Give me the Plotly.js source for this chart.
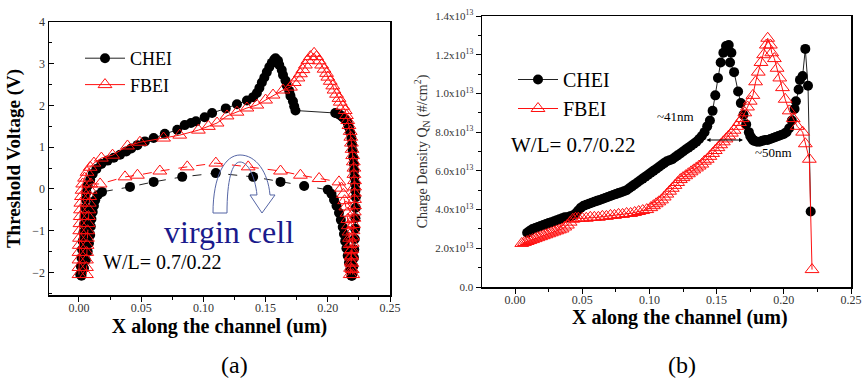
<!DOCTYPE html>
<html>
<head>
<meta charset="utf-8">
<script src="https://cdn.plot.ly/plotly-3.0.1.min.js"></script>
<style>html,body{margin:0;padding:0;background:#fff;}#chart{width:862px;height:381px;}</style>
</head>
<body>
<div id="chart"></div>
<script>
// ---------- Panel (a): threshold voltage along the channel ----------
const aCheiProgX = [0.001,0.0015,0.002,0.0025,0.003,0.0035,0.004,0.0045,0.005,0.0055,0.006,0.007,0.009,0.011,0.014,0.018,0.023,0.028,0.033,0.038,0.042,0.047,0.053,0.060,0.069,0.079,0.085,0.090,0.094,0.101,0.107,0.118,0.127,0.135,0.140,0.143,0.145,0.147,0.149,0.151,0.153,0.155,0.157,0.158,0.160,0.161,0.163,0.164,0.166,0.167,0.169,0.170,0.172,0.173,0.174,0.206,0.208,0.210,0.212,0.214,0.216,0.217,0.218,0.219,0.2195,0.220,0.2205,0.221,0.2212,0.2215,0.222,0.2222,0.2225,0.2225,0.2222,0.222,0.2217,0.2213,0.221,0.2205,0.22,0.2195];
const aCheiProgY = [-2.05,-1.85,-1.65,-1.45,-1.25,-1.05,-0.85,-0.65,-0.45,-0.25,-0.08,0.08,0.22,0.36,0.48,0.60,0.68,0.75,0.82,0.90,0.97,1.05,1.14,1.22,1.32,1.42,1.53,1.58,1.62,1.72,1.82,1.93,2.03,2.12,2.20,2.30,2.42,2.55,2.67,2.80,2.92,3.02,3.10,3.13,3.07,2.97,2.85,2.73,2.60,2.48,2.35,2.23,2.10,1.98,1.88,1.82,1.80,1.77,1.72,1.66,1.58,1.48,1.36,1.22,1.07,0.92,0.76,0.60,0.44,0.28,0.12,-0.04,-0.20,-0.45,-0.70,-0.95,-1.2,-1.45,-1.65,-1.85,-2.0,-2.08];
const aCheiVirgX = [0.002,0.004,0.0055,0.007,0.008,0.009,0.0095,0.010,0.011,0.012,0.013,0.015,0.0185,0.041,0.060,0.083,0.110,0.140,0.162,0.181,0.200,0.203,0.205,0.207,0.209,0.2105,0.212,0.213,0.214,0.215,0.216,0.217,0.218,0.219];
const aCheiVirgY = [-2.08,-1.90,-1.70,-1.50,-1.30,-1.10,-0.90,-0.72,-0.55,-0.40,-0.27,-0.15,-0.07,0.05,0.17,0.29,0.38,0.29,0.17,0.07,-0.02,-0.12,-0.26,-0.40,-0.57,-0.74,-0.91,-1.08,-1.25,-1.42,-1.60,-1.77,-1.93,-2.08];
const aFbeiProgX = [0.000,0.000,0.000,0.000,0.0002,0.0004,0.0006,0.0008,0.001,0.0012,0.0015,0.002,0.0025,0.003,0.0045,0.0065,0.009,0.012,0.018,0.027,0.039,0.049,0.068,0.081,0.096,0.104,0.111,0.119,0.127,0.135,0.143,0.150,0.156,0.164,0.170,0.173,0.176,0.178,0.180,0.182,0.184,0.186,0.189,0.191,0.193,0.195,0.197,0.199,0.200,0.202,0.204,0.205,0.207,0.209,0.210,0.212,0.214,0.215,0.216,0.217,0.218,0.2185,0.219,0.2195,0.220,0.2205,0.221,0.221,0.2215,0.2215,0.2215,0.2215,0.2215,0.2213,0.221,0.2207,0.2203,0.220,0.2197,0.2193,0.219,0.2187,0.2183,0.218];
const aFbeiProgY = [-2.05,-1.88,-1.70,-1.52,-1.35,-1.18,-1.00,-0.83,-0.66,-0.50,-0.34,-0.18,-0.03,0.12,0.26,0.40,0.52,0.62,0.74,0.81,1.03,1.12,1.22,1.29,1.41,1.50,1.58,1.75,1.84,1.94,2.01,2.13,2.25,2.37,2.44,2.55,2.66,2.76,2.86,2.97,3.08,3.17,3.25,3.17,3.07,2.97,2.87,2.77,2.68,2.58,2.47,2.37,2.27,2.17,2.08,1.98,1.88,1.76,1.64,1.52,1.38,1.24,1.10,0.95,0.80,0.65,0.50,0.35,0.20,0.05,-0.10,-0.25,-0.40,-0.55,-0.70,-0.85,-1.00,-1.15,-1.30,-1.45,-1.60,-1.75,-1.90,-2.05];
const aFbeiVirgX = [0.006,0.006,0.006,0.0062,0.0065,0.0068,0.007,0.0073,0.0076,0.008,0.0083,0.0086,0.009,0.0095,0.017,0.037,0.047,0.065,0.087,0.110,0.136,0.162,0.178,0.193,0.209,0.211,0.2125,0.2135,0.2145,0.2155,0.216,0.2165,0.217,0.2175,0.218,0.2185,0.219,0.2193,0.2196,0.220];
const aFbeiVirgY = [-2.05,-1.88,-1.70,-1.52,-1.35,-1.18,-1.00,-0.83,-0.66,-0.50,-0.34,-0.18,-0.03,0.12,0.12,0.29,0.33,0.43,0.53,0.62,0.53,0.43,0.33,0.25,0.17,0.02,-0.13,-0.28,-0.43,-0.58,-0.73,-0.88,-1.03,-1.18,-1.33,-1.48,-1.63,-1.78,-1.93,-2.05];

// ---------- Panel (b): charge density (units of 1e13 #/cm^2) ----------
const bCheiX = [0.009,0.011,0.013,0.015,0.017,0.019,0.021,0.023,0.025,0.027,0.029,0.031,0.033,0.035,0.037,0.039,0.041,0.043,0.045,0.047,0.049,0.051,0.053,0.055,0.057,0.059,0.061,0.063,0.065,0.067,0.069,0.071,0.073,0.075,0.077,0.079,0.081,0.083,0.085,0.087,0.089,0.091,0.093,0.095,0.097,0.099,0.101,0.103,0.105,0.107,0.109,0.111,0.113,0.115,0.117,0.119,0.121,0.123,0.125,0.127,0.129,0.131,0.133,0.135,0.137,0.139,0.141,0.143,0.145,0.147,0.149,0.151,0.153,0.155,0.157,0.159,0.161,0.160,0.163,0.166,0.168,0.170,0.172,0.174,0.175,0.176,0.177,0.178,0.180,0.182,0.184,0.186,0.188,0.190,0.192,0.194,0.196,0.198,0.200,0.202,0.204,0.206,0.208,0.209,0.211,0.212,0.214,0.216,0.218,0.220];
const bCheiY = [0.28,0.29,0.30,0.305,0.31,0.315,0.32,0.325,0.33,0.335,0.34,0.345,0.35,0.355,0.36,0.36,0.365,0.37,0.38,0.395,0.41,0.42,0.425,0.43,0.435,0.44,0.445,0.45,0.455,0.46,0.465,0.47,0.475,0.48,0.485,0.49,0.495,0.50,0.51,0.52,0.53,0.54,0.55,0.56,0.57,0.58,0.59,0.60,0.61,0.62,0.63,0.64,0.65,0.655,0.66,0.67,0.68,0.69,0.70,0.71,0.72,0.73,0.74,0.75,0.765,0.78,0.80,0.83,0.86,0.91,0.99,1.08,1.16,1.21,1.245,1.25,1.21,1.16,1.11,1.01,0.95,0.89,0.84,0.80,0.78,0.77,0.76,0.755,0.75,0.75,0.755,0.76,0.76,0.765,0.77,0.775,0.78,0.785,0.79,0.80,0.82,0.86,0.92,0.96,1.02,1.07,1.09,1.23,1.04,0.39];
const bFbeiX = [0.005,0.007,0.009,0.011,0.013,0.015,0.017,0.019,0.021,0.023,0.025,0.027,0.029,0.031,0.033,0.035,0.037,0.039,0.041,0.043,0.045,0.047,0.050,0.053,0.056,0.059,0.062,0.065,0.068,0.071,0.074,0.077,0.080,0.083,0.086,0.089,0.092,0.095,0.098,0.101,0.103,0.105,0.107,0.109,0.111,0.113,0.115,0.117,0.119,0.121,0.123,0.125,0.127,0.129,0.131,0.133,0.135,0.137,0.139,0.141,0.143,0.145,0.147,0.149,0.151,0.153,0.155,0.157,0.159,0.161,0.163,0.165,0.167,0.169,0.171,0.173,0.175,0.177,0.179,0.181,0.183,0.185,0.187,0.188,0.190,0.191,0.193,0.195,0.197,0.199,0.201,0.204,0.207,0.210,0.214,0.216,0.219,0.221];
const bFbeiY = [0.225,0.23,0.235,0.24,0.245,0.25,0.255,0.26,0.265,0.27,0.275,0.28,0.285,0.29,0.295,0.30,0.31,0.32,0.335,0.35,0.355,0.355,0.355,0.355,0.36,0.36,0.36,0.365,0.365,0.37,0.37,0.375,0.375,0.38,0.38,0.385,0.39,0.395,0.40,0.41,0.42,0.43,0.44,0.45,0.465,0.48,0.495,0.51,0.525,0.54,0.555,0.565,0.575,0.585,0.595,0.605,0.615,0.625,0.635,0.65,0.66,0.675,0.69,0.705,0.72,0.735,0.75,0.765,0.78,0.795,0.81,0.83,0.85,0.87,0.90,0.93,0.96,0.99,1.06,1.11,1.16,1.20,1.25,1.285,1.25,1.21,1.18,1.13,1.08,1.03,0.97,0.91,0.87,0.83,0.80,0.74,0.66,0.09];

const bYTickVals = [0,0.2,0.4,0.6,0.8,1.0,1.2,1.4];
const bYTickText = ['0.0','2.0x10<sup>13</sup>','4.0x10<sup>13</sup>','6.0x10<sup>13</sup>','8.0x10<sup>13</sup>','1.0x10<sup>13</sup>','1.2x10<sup>13</sup>','1.4x10<sup>13</sup>'];

const SERIF = 'Liberation Serif';
const RED = '#ff1010';
const W = 862, H = 381;
const PX = v => v / W;
const PY = v => 1 - v / H;

const cheiMarker = {symbol:'circle', size:10, color:'#000'};
const fbeiMarker = {symbol:'triangle-up-open', size:12, color:RED, line:{width:1, color:RED}};

const traces = [
  {x:aCheiProgX, y:aCheiProgY, xaxis:'x', yaxis:'y', name:'CHEI', mode:'lines+markers', line:{color:'#222', width:1}, marker:cheiMarker, legend:'legend', legendgroup:'a1'},
  {x:aCheiVirgX, y:aCheiVirgY, xaxis:'x', yaxis:'y', name:'CHEI virgin', mode:'lines+markers', line:{color:'#222', width:1, dash:'dash'}, marker:cheiMarker, showlegend:false},
  {x:aFbeiProgX, y:aFbeiProgY, xaxis:'x', yaxis:'y', name:'FBEI', mode:'lines+markers', line:{color:RED, width:1}, marker:fbeiMarker, legend:'legend', legendgroup:'a2'},
  {x:aFbeiVirgX, y:aFbeiVirgY, xaxis:'x', yaxis:'y', name:'FBEI virgin', mode:'lines+markers', line:{color:RED, width:1, dash:'dash'}, marker:fbeiMarker, showlegend:false},
  {x:bCheiX, y:bCheiY, xaxis:'x2', yaxis:'y2', name:'CHEI', mode:'lines+markers', line:{color:'#222', width:1}, marker:cheiMarker, legend:'legend2', legendgroup:'b1'},
  {x:bFbeiX, y:bFbeiY, xaxis:'x2', yaxis:'y2', name:'FBEI', mode:'lines+markers', line:{color:RED, width:1}, marker:fbeiMarker, legend:'legend2', legendgroup:'b2'}
];

const tickFont = {family:SERIF, size:12, color:'#333'};
const axisBase = {showline:true, linecolor:'#000', linewidth:1.5, mirror:true, showgrid:false, zeroline:false, automargin:false, tickcolor:'#000', tickwidth:1, tickfont:tickFont};

function P(x, y){ return PX(x).toFixed(5) + ',' + PY(y).toFixed(5); }
const arrowPath = 'M' + P(213,213) + ' C' + P(213,176) + ' ' + P(225,155) + ' ' + P(240,155) +
  ' C' + P(256,155) + ' ' + P(268,172) + ' ' + P(270,195) + ' L' + P(275,195) + ' L' + P(262,213) +
  ' L' + P(250,195) + ' L' + P(257,195) + ' C' + P(255,176) + ' ' + P(248,162) + ' ' + P(240,162) +
  ' C' + P(232,162) + ' ' + P(227,180) + ' ' + P(227,213) + ' Z';

function note(x, y, text, size, color){
  return {xref:'paper', yref:'paper', x:PX(x), y:PY(y), xanchor:'center', yanchor:'middle', text:text, showarrow:false, font:{family:SERIF, size:size, color:color || '#000'}};
}

const layout = {
  width:W, height:H, margin:{l:0, r:0, t:0, b:0}, paper_bgcolor:'#fff', plot_bgcolor:'#fff',
  font:{family:SERIF, color:'#000'},
  xaxis:Object.assign({}, axisBase, {domain:[PX(49), PX(390)], anchor:'y', range:[-0.0241, 0.25], tick0:0, dtick:0.05, tickformat:'.2f', ticks:'outside', ticklen:5, ticklabelstandoff:-4, minor:{ticks:'outside', ticklen:3, tick0:0, dtick:0.025, tickcolor:'#000'}, title:{text:'<b>X along the channel (um)</b>', font:{family:SERIF, size:20, color:'#000'}, standoff:2}}),
  yaxis:Object.assign({}, axisBase, {domain:[PY(295), PY(22)], anchor:'x', range:[-2.54, 4], tick0:0, dtick:1, ticks:'inside', ticklen:5, minor:{ticks:'inside', ticklen:3, tick0:0, dtick:0.5, tickcolor:'#000'}, title:{text:'<b>Threshold Voltage (V)</b>', font:{family:SERIF, size:19, color:'#000'}, standoff:6}}),
  xaxis2:Object.assign({}, axisBase, {domain:[PX(482), PX(851)], anchor:'y2', range:[-0.0246, 0.25], tick0:0, dtick:0.05, tickformat:'.2f', ticks:'outside', ticklen:5, ticklabelstandoff:-4, minor:{ticks:'outside', ticklen:3, tick0:0, dtick:0.025, tickcolor:'#000'}}),
  yaxis2:Object.assign({}, axisBase, {domain:[PY(287), PY(16)], anchor:'x2', range:[0, 1.4], tickvals:bYTickVals, ticktext:bYTickText, ticks:'outside', ticklen:5, minor:{ticks:'outside', ticklen:3, tick0:0, dtick:0.1, tickcolor:'#000'}, tickfont:{family:SERIF, size:11, color:'#333'}, title:{text:'Charge Density Q<sub>N</sub> (#/cm<sup>2</sup>)', font:{family:SERIF, size:14, color:'#333'}, standoff:4}}),
  legend:{x:PX(80), y:PY(40), xanchor:'left', yanchor:'top', bgcolor:'rgba(0,0,0,0)', borderwidth:0, font:{family:SERIF, size:18, color:'#000'}, traceorder:'grouped', tracegroupgap:0, itemsizing:'trace', itemwidth:40},
  legend2:{x:PX(513), y:PY(60), xanchor:'left', yanchor:'top', bgcolor:'rgba(0,0,0,0)', borderwidth:0, font:{family:SERIF, size:20, color:'#000'}, traceorder:'grouped', tracegroupgap:0, itemsizing:'trace', itemwidth:40},
  shapes:[
    {type:'path', xref:'paper', yref:'paper', path:arrowPath, line:{color:'#5565a5', width:1}, fillcolor:'rgba(0,0,0,0)'}
  ],
  annotations:[
    note(229, 232, 'virgin cell', 32, '#1a1a8c'),
    note(162, 262, 'W/L= 0.7/0.22', 20),
    note(573, 145, 'W/L= 0.7/0.22', 21),
    note(675, 116, '~41nm', 13),
    note(773, 153, '~50nm', 13),
    {xref:'paper', yref:'paper', x:PX(743), y:PY(140), ax:-38, ay:0, text:'', showarrow:true, arrowside:'end+start', arrowhead:2, arrowsize:0.8, arrowwidth:1, arrowcolor:'#000'},
    note(680, 317, '<b>X along the channel (um)</b>', 20),
    note(235, 365, '(a)', 24),
    note(682, 365, '(b)', 24)
  ]
};

Plotly.newPlot('chart', traces, layout, {displayModeBar:false, staticPlot:true});
</script>
</body>
</html>
